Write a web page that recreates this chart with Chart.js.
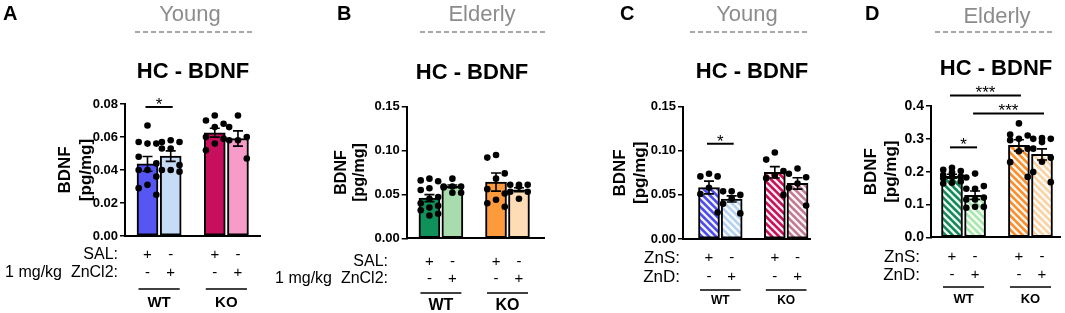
<!DOCTYPE html>
<html>
<head>
<meta charset="utf-8">
<script src="https://cdn.jsdelivr.net/npm/chart.js@4.4.1/dist/chart.umd.min.js"></script>
<style>
html,body{margin:0;padding:0;background:#fff;width:1065px;height:313px;overflow:hidden;}
canvas{position:absolute;left:0;top:0;}
</style>
</head>
<body>
<canvas id="cA" width="1065" height="313"></canvas>
<canvas id="cB" width="1065" height="313"></canvas>
<canvas id="cC" width="1065" height="313"></canvas>
<canvas id="cD" width="1065" height="313"></canvas>
<script>
// ---------- data ----------
const positions = [1, 2, 3.9, 4.9];
const rowMarksTop = ['+', '-', '+', '-'];
const rowMarksBottom = ['-', '+', '-', '+'];
const groupNames = ['WT', 'KO'];
const rowNamesSal = ['SAL:', '1 mg/kg  ZnCl2:'];
const rowNamesZn = ['ZnS:', 'ZnD:'];
const yTitle = ['BDNF', '[pg/mg]'];
const chartTitle = 'HC - BDNF';
const panelLetters = ['A', 'B', 'C', 'D'];
const ageLabels = ['Young', 'Elderly', 'Young', 'Elderly'];

const meansA = [0.0437, 0.0484, 0.0626, 0.0591];
const semA = [0.0045, 0.0032, 0.0027, 0.0046];
const pointsA = [
  [0.067, 0.057, 0.056, 0.056, 0.048, 0.044, 0.040, 0.040, 0.036, 0.031, 0.029, 0.025],
  [0.058, 0.057, 0.057, 0.053, 0.053, 0.043, 0.040, 0.040, 0.039],
  [0.073, 0.070, 0.068, 0.066, 0.060, 0.059, 0.056, 0.052],
  [0.073, 0.066, 0.060, 0.058, 0.058, 0.047]
];
const bracketsA = [{from: 0, to: 1, y: 0.0782, label: '*'}];

const meansB = [0.0458, 0.0592, 0.0641, 0.0553];
const semB = [0.0040, 0.0015, 0.0103, 0.0023];
const pointsB = [
  [0.068, 0.066, 0.065, 0.057, 0.055, 0.047, 0.045, 0.040, 0.037, 0.035, 0.032, 0.028, 0.026],
  [0.068, 0.059, 0.059, 0.059, 0.058, 0.052, 0.052],
  [0.095, 0.092, 0.074, 0.068, 0.056, 0.051, 0.044, 0.040, 0.036],
  [0.061, 0.061, 0.061, 0.059, 0.053, 0.053, 0.045]
];
const bracketsB = [];

const meansC = [0.0584, 0.0454, 0.0756, 0.0630];
const semC = [0.0072, 0.0035, 0.0065, 0.0065];
const pointsC = [
  [0.074, 0.071, 0.071, 0.058, 0.051, 0.030],
  [0.054, 0.054, 0.050, 0.046, 0.040, 0.029],
  [0.098, 0.090, 0.077, 0.072, 0.069, 0.050],
  [0.080, 0.074, 0.070, 0.063, 0.058, 0.038]
];
const bracketsC = [{from: 0, to: 1, y: 0.108, label: '*'}];

const meansD = [0.186, 0.128, 0.280, 0.2525];
const semD = [0.006, 0.013, 0.017, 0.017];
const pointsD = [
  [0.212, 0.206, 0.202, 0.198, 0.190, 0.185, 0.184, 0.180, 0.170, 0.166, 0.164],
  [0.194, 0.182, 0.156, 0.148, 0.148, 0.121, 0.115, 0.115, 0.093, 0.093, 0.090],
  [0.347, 0.313, 0.310, 0.300, 0.296, 0.270, 0.262, 0.229, 0.184],
  [0.302, 0.300, 0.300, 0.290, 0.270, 0.242, 0.230, 0.199, 0.168]
];
const bracketsD = [
  {from: 0, to: 2, y: 0.432, label: '***'},
  {from: 1, to: 3, y: 0.3775, label: '***'},
  {from: 0, to: 1, y: 0.274, label: '*'}
];

// ---------- styles ----------
const FONT = '"Liberation Sans", Arial, Helvetica, sans-serif';
Chart.defaults.font.family = FONT;
const colorsA = ['#5656f3', '#c6dcf6', '#c80f5e', '#f79bc8'];
const colorsB = ['#10905a', '#a8dcac', '#fc9a3c', '#fddcb6'];
const colorsC = ['#4b4beb', '#b5d1ef', '#c81058', '#c27a93'];
const colorsD = ['#13895a', '#a6e8aa', '#f98f2c', '#fad3a5'];
const jitter = [0, -0.38, 0.38];

function hatch(ctx, color) {
  const s = 7;
  const c = document.createElement('canvas');
  c.width = s; c.height = s;
  const g = c.getContext('2d');
  g.fillStyle = color; g.fillRect(0, 0, s, s);
  g.strokeStyle = 'rgba(255,255,255,0.92)';
  g.lineWidth = 2.3;
  g.beginPath();
  for (const o of [-s, 0, s]) { g.moveTo(o - 1, -1); g.lineTo(o + s + 1, s + 1); }
  g.stroke();
  return ctx.createPattern(c, 'repeat');
}

function makePanel(id, idx, d, g) {
  const canvas = document.getElementById(id);
  const ctx0 = canvas.getContext('2d');
  const fills = d.colors.map(c => g.hatched ? hatch(ctx0, c) : c);
  const barData = d.means.map((m, i) => ({x: positions[i], y: m}));
  const dots = [];
  d.points.forEach((arr, i) => {
    [...arr].sort((a, b) => b - a).forEach((v, j) => dots.push({x: positions[i] + jitter[j % 3], y: v}));
  });
  const rowNames = g.hatched ? rowNamesZn : rowNamesSal;

  const panelPlugin = {
    id: 'panelDecor' + idx,
    afterDatasetDraw(chart, args) {
      if (args.index !== 0) return;
      const c = chart.ctx, xs = chart.scales.x, ys = chart.scales.y;
      c.save();
      c.strokeStyle = '#000'; c.lineWidth = 1.6;
      d.means.forEach((m, i) => {
        const px = xs.getPixelForValue(positions[i]);
        const t = ys.getPixelForValue(m + d.sem[i]);
        const b = ys.getPixelForValue(m - d.sem[i]);
        c.beginPath();
        c.moveTo(px, t); c.lineTo(px, b);
        c.moveTo(px - 5, t); c.lineTo(px + 5, t);
        c.moveTo(px - 5, b); c.lineTo(px + 5, b);
        c.stroke();
      });
      c.restore();
    },
    afterDraw(chart) {
      const c = chart.ctx, xs = chart.scales.x, ys = chart.scales.y;
      c.save();
      // letter
      c.fillStyle = '#000'; c.textBaseline = 'alphabetic';
      c.font = 'bold 20px ' + FONT; c.textAlign = 'left';
      c.fillText(panelLetters[idx], g.letter[0], g.letter[1]);
      // age label
      c.fillStyle = '#8c8c8c'; c.font = '22px ' + FONT; c.textAlign = 'center';
      c.fillText(ageLabels[idx], g.age[0], g.age[1]);
      // dashed line
      c.strokeStyle = '#a8a8a8'; c.lineWidth = 2; c.setLineDash([5, 3]);
      c.beginPath(); c.moveTo(g.dash[0], g.dash[2]); c.lineTo(g.dash[1], g.dash[2]); c.stroke();
      c.setLineDash([]);
      // title
      c.fillStyle = '#000'; c.font = 'bold 22px ' + FONT;
      c.fillText(chartTitle, g.title[0], g.title[1]);
      // row labels
      c.font = g.rowLabelSize + 'px ' + FONT; c.textAlign = 'right'; c.textBaseline = 'middle';
      rowNames.forEach((t, i) => {
        c.fillText(t, g.rowLabelX, chart.chartArea.bottom + g.rowPad + g.rowLH / 2 + i * g.rowLH);
      });
      // group lines + names
      c.strokeStyle = '#000'; c.lineWidth = 1.5; c.textAlign = 'center'; c.textBaseline = 'alphabetic';
      c.font = 'bold ' + g.groupSize + 'px ' + FONT;
      groupNames.forEach((name, k) => {
        const x1 = xs.getPixelForValue(positions[2 * k]) - 9;
        const x2 = xs.getPixelForValue(positions[2 * k + 1]) + 9;
        c.beginPath(); c.moveTo(x1, g.groupLineY); c.lineTo(x2, g.groupLineY); c.stroke();
        c.fillText(name, (x1 + x2) / 2, g.groupTextY);
      });
      // significance brackets
      c.lineWidth = 2;
      d.brackets.forEach(br => {
        const x1 = xs.getPixelForValue(positions[br.from]) - 2;
        const x2 = xs.getPixelForValue(positions[br.to]) + 2;
        const y = ys.getPixelForValue(br.y);
        c.beginPath(); c.moveTo(x1, y); c.lineTo(x2, y); c.stroke();
        c.font = '17px ' + FONT;
        c.fillText(br.label, (x1 + x2) / 2, y + 3);
      });
      c.restore();
    }
  };

  return new Chart(canvas, {
    type: 'bar',
    data: {
      datasets: [
        {type: 'bar', data: barData, backgroundColor: fills, borderColor: '#000', borderWidth: 2,
         borderSkipped: false, barThickness: 21, order: 2},
        {type: 'scatter', data: dots, backgroundColor: '#000', borderWidth: 0, pointRadius: 3.3, order: 1}
      ]
    },
    options: {
      responsive: false, animation: false, devicePixelRatio: 1,
      layout: {padding: {left: g.P, top: g.T, right: 1065 - g.R, bottom: 0}},
      plugins: {legend: {display: false}, tooltip: {enabled: false}, title: {display: false}},
      scales: {
        x: {
          type: 'linear', min: g.xmin, max: g.xmax, offset: false,
          grid: {display: false, drawTicks: false},
          border: {display: true, color: '#000', width: 2},
          afterBuildTicks: s => { s.ticks = positions.map(v => ({value: v})); },
          ticks: {autoSkip: false, maxRotation: 0, padding: g.rowPad, color: '#000',
                  font: {size: 15, lineHeight: g.rowLH + 'px'},
                  callback: (v, i) => [rowMarksTop[i], rowMarksBottom[i]]},
          afterFit: s => { s.height = 313 - g.B; }
        },
        y: {
          min: 0, max: g.ymax,
          ticks: {stepSize: g.ystep, color: '#000', padding: 2,
                  font: {size: g.tickSize, weight: 'bold'},
                  callback: v => Number(v).toFixed(g.dec)},
          grid: {display: true, drawOnChartArea: false, drawTicks: true, tickLength: 5, color: '#000', lineWidth: 1.5},
          border: {display: true, color: '#000', width: 2},
          title: {display: true, text: yTitle, color: '#000', padding: 0,
                  font: {size: g.ytSize, weight: 'bold', lineHeight: g.ytLH + 'px'}},
          afterFit: s => { s.width = g.L - g.P; }
        }
      }
    },
    plugins: [panelPlugin]
  });
}

makePanel('cA', 0, {means: meansA, sem: semA, points: pointsA, brackets: bracketsA, colors: colorsA}, {
  hatched: false, L: 125, R: 260, T: 104, B: 236, P: 54.4, xmin: 0.03, xmax: 5.85,
  ymax: 0.08, ystep: 0.02, dec: 2, tickSize: 13, ytSize: 17, ytLH: 21.25,
  rowPad: 10, rowLH: 18, rowLabelX: 118, rowLabelSize: 16, groupLineY: 289, groupTextY: 307, groupSize: 15,
  letter: [3, 20], age: [190, 21], dash: [135, 253, 32], title: [193, 78]
});
makePanel('cB', 1, {means: meansB, sem: semB, points: pointsB, brackets: bracketsB, colors: colorsB}, {
  hatched: false, L: 406.7, R: 544, T: 106.7, B: 238.3, P: 333, xmin: 0.01, xmax: 5.99,
  ymax: 0.15, ystep: 0.05, dec: 2, tickSize: 13, ytSize: 16, ytLH: 18,
  rowPad: 15, rowLH: 17, rowLabelX: 388, rowLabelSize: 16, groupLineY: 293, groupTextY: 310, groupSize: 16,
  letter: [337, 20], age: [482, 21], dash: [420, 545, 32], title: [472, 79]
});
makePanel('cC', 2, {means: meansC, sem: semC, points: pointsC, brackets: bracketsC, colors: colorsC}, {
  hatched: true, L: 683, R: 810, T: 106.7, B: 239, P: 610, xmin: -0.145, xmax: 5.45,
  ymax: 0.15, ystep: 0.05, dec: 2, tickSize: 13, ytSize: 17, ytLH: 20,
  rowPad: 9.5, rowLH: 19, rowLabelX: 680, rowLabelSize: 17, groupLineY: 290, groupTextY: 303.5, groupSize: 12,
  letter: [620, 20], age: [747, 21], dash: [690, 808, 32], title: [752, 78]
});
makePanel('cD', 3, {means: meansD, sem: semD, points: pointsD, brackets: bracketsD, colors: colorsD}, {
  hatched: true, L: 931, R: 1060, T: 106, B: 237.3, P: 861.7, xmin: 0.09, xmax: 5.68,
  ymax: 0.4, ystep: 0.1, dec: 1, tickSize: 14, ytSize: 17, ytLH: 20,
  rowPad: 10.7, rowLH: 18, rowLabelX: 920, rowLabelSize: 17, groupLineY: 287, groupTextY: 302.5, groupSize: 13,
  letter: [865, 20], age: [997, 23], dash: [935, 1052, 32], title: [996, 75]
});
</script>
</body>
</html>
